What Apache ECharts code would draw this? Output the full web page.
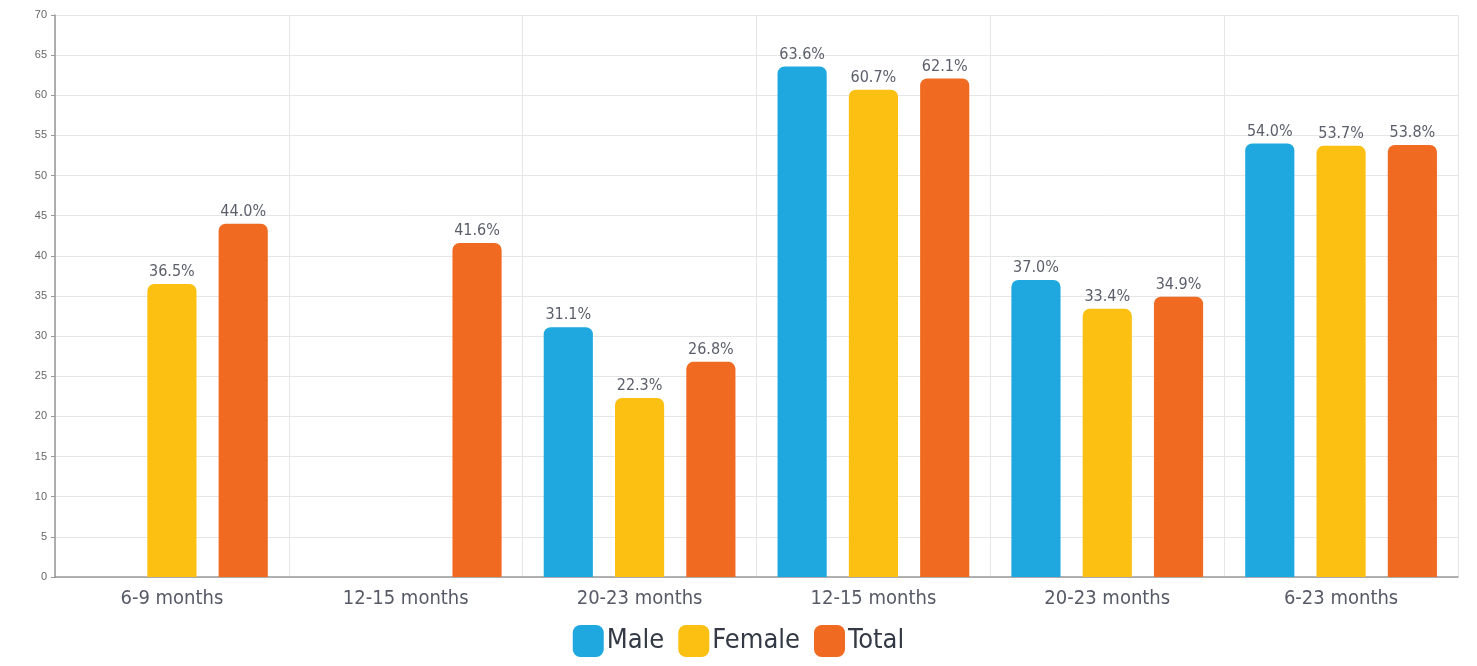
<!DOCTYPE html>
<html lang="en">
<head>
    <meta charset="UTF-8">
    <title>Chart</title>
    <script src="https://cdn.jsdelivr.net/npm/echarts@6/dist/echarts.min.js"></script>
    <style>
        html, body { margin: 0; padding: 0; background: #fff; }
        #chart { width: 1477px; height: 666px; }
    </style>
</head>
<body>
    <div id="chart"></div>
    <script>
        // categories (two names repeat, so the axis uses indices)
        var groups = ['6-9 months', '12-15 months', '20-23 months', '12-15 months', '20-23 months', '6-23 months'];
        var male   = ['-', '-', 31.1, 63.6, 37.0, 54.0];
        var female = [36.5, '-', 22.3, 60.7, 33.4, 53.7];
        var total  = [44.0, 41.6, 26.8, 62.1, 34.9, 53.8];

        var narrow = '"Liberation Sans Narrow", "DejaVu Sans Condensed", "Roboto", sans-serif';

        function makeSeries(name, data, color) {
            return {
                name: name,
                type: 'bar',
                data: data,
                barGap: '45%',
                barCategoryGap: '18%',
                itemStyle: { color: color, borderRadius: [7, 7, 0, 0] },
                label: {
                    show: true,
                    position: 'top',
                    distance: 4,
                    color: '#5b5f6b',
                    fontSize: 16,
                    fontFamily: narrow,
                    formatter: function (p) { return p.value.toFixed(1) + '%'; }
                }
            };
        }

        var chart = echarts.init(document.getElementById('chart'));
        chart.setOption({
            animation: false,
            grid: { left: 55, right: 19, top: 15, bottom: 89 },
            legend: {
                bottom: 4,
                left: 'center',
                itemWidth: 31,
                itemHeight: 32,
                itemGap: 14,
                icon: 'roundRect',
                textStyle: { fontSize: 27, color: '#333a45', fontFamily: narrow, padding: [0, 0, 0, -2] },
                data: ['Male', 'Female', 'Total']
            },
            xAxis: {
                type: 'category',
                data: groups.map(function (g, i) { return String(i); }),
                axisLine: { lineStyle: { color: '#999', width: 1.5 } },
                axisTick: { alignWithLabel: true, length: 3, lineStyle: { color: '#999' } },
                axisLabel: {
                    margin: 12,
                    fontSize: 20,
                    color: '#555a66',
                    fontFamily: narrow,
                    formatter: function (v) { return groups[+v]; }
                },
                splitLine: { show: true, lineStyle: { color: '#e6e6e6' } }
            },
            yAxis: {
                type: 'value',
                min: 0,
                max: 70,
                interval: 5,
                axisLine: { show: true, lineStyle: { color: '#999', width: 1.5 } },
                axisTick: { show: true, length: 4, lineStyle: { color: '#999' } },
                axisLabel: { fontSize: 11, color: '#666', margin: 8 },
                splitLine: { lineStyle: { color: '#e6e6e6' } }
            },
            series: [
                makeSeries('Male', male, '#1fa8e0'),
                makeSeries('Female', female, '#fcc012'),
                makeSeries('Total', total, '#f06a22')
            ]
        });
    </script>
</body>
</html>
